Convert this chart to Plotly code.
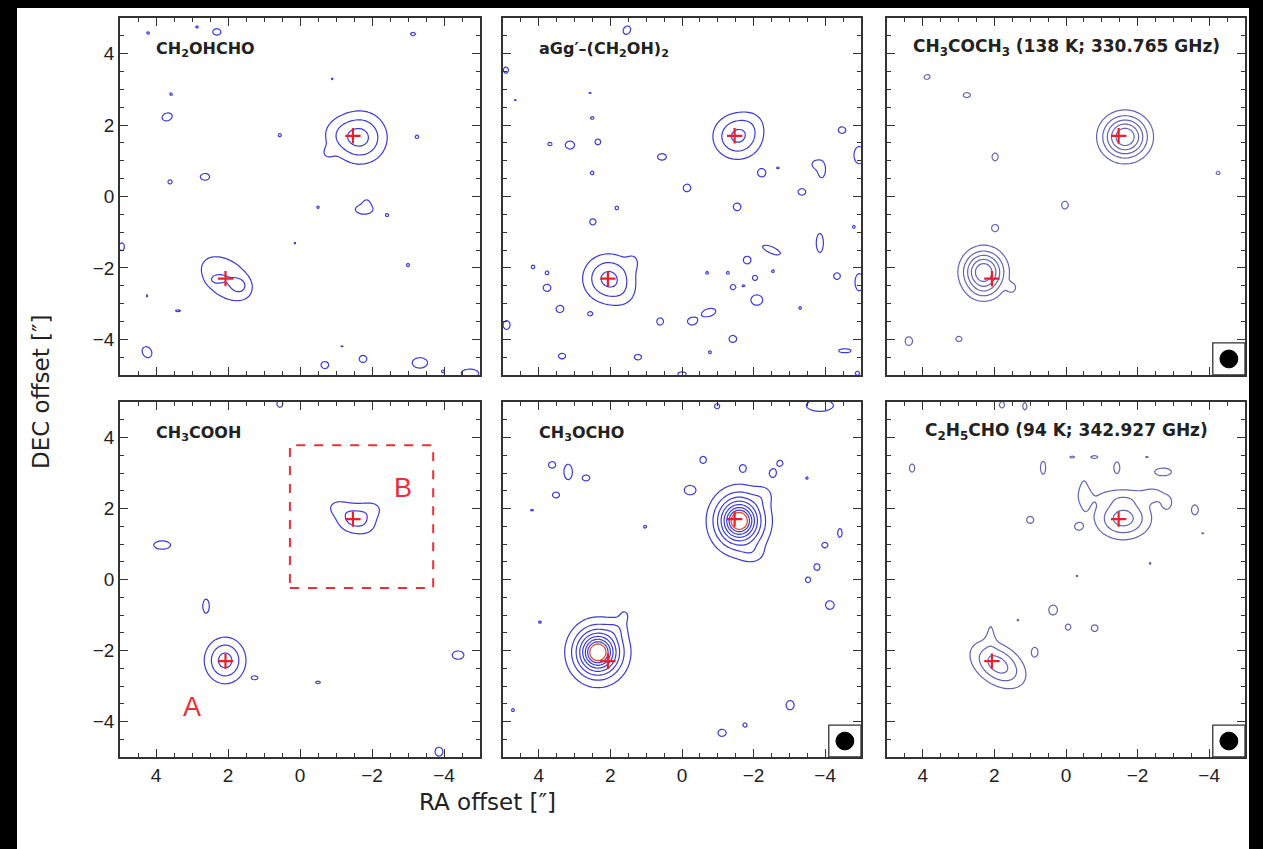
import numpy as np
import plotly.graph_objects as go

# ---------------- data ----------------
W, H = 1263, 849
titles = ["CH<sub>2</sub>OHCHO", "aGg′–(CH<sub>2</sub>OH)<sub>2</sub>",
          "CH<sub>3</sub>COCH<sub>3</sub> (138 K; 330.765 GHz)",
          "CH<sub>3</sub>COOH", "CH<sub>3</sub>OCHO",
          "C<sub>2</sub>H<sub>5</sub>CHO (94 K; 342.927 GHz)"]
tick_vals = [4, 2, 0, -2, -4]
src_A = (2.07, -2.3)
src_B = (-1.47, 1.7)

# emission components per panel: (x, y, amplitude, sigma_u, sigma_v, angle_deg)
comp_p1 = [(-1.68, 1.65, 3.3, 0.48, 0.48, 0), (-1.0, 1.75, 0.8, 0.35, 0.35, 0), (-0.75, 1.2, 0.7, 0.15, 0.15, 0),
           (2.05, -2.3, 2.0, 0.66, 0.42, 37), (1.67, -2.5, 1.0, 0.15, 0.15, 0), (2.35, -2.33, 0.8, 0.12, 0.08, 0),
           (2.31, 4.61, 1.4, 0.14, 0.11, 0), (4.22, 4.58, 1.08, 0.1, 0.1, 0), (2.86, 4.75, 1.08, 0.1, 0.1, 0),
           (3.69, 2.23, 1.5, 0.16, 0.12, -20), (3.58, 2.87, 1.08, 0.1, 0.1, 0), (3.61, 0.41, 1.2, 0.1, 0.1, 0),
           (2.64, 0.55, 1.45, 0.15, 0.11, 0), (0.56, 1.72, 1.12, 0.1, 0.1, 0), (-3.25, 1.67, 1.12, 0.1, 0.1, 0),
           (-0.89, 3.29, 1.05, 0.1, 0.1, 0), (-3.14, 4.55, 1.2, 0.12, 0.08, 0), (-1.78, -0.36, 1.6, 0.25, 0.14, 0),
           (-1.85, -0.18, 1.1, 0.08, 0.1, 0), (-0.5, -0.3, 1.08, 0.1, 0.1, 0), (-2.42, -0.52, 1.08, 0.1, 0.1, 0),
           (0.14, -1.31, 1.05, 0.1, 0.1, 0), (-3.0, -1.92, 1.12, 0.1, 0.1, 0), (4.95, -1.41, 1.3, 0.1, 0.15, 0),
           (4.25, -2.78, 1.05, 0.1, 0.1, 0), (3.39, -3.2, 1.12, 0.15, 0.07, 0), (4.25, -4.36, 1.5, 0.14, 0.18, -30),
           (-0.69, -4.72, 1.4, 0.13, 0.12, 0), (-1.75, -4.55, 1.4, 0.13, 0.12, 0), (-1.17, -4.19, 1.05, 0.1, 0.1, 0),
           (-3.33, -4.66, 1.6, 0.22, 0.15, 0), (-4.72, -4.95, 1.6, 0.25, 0.12, 0), (-3.97, -4.9, 1.08, 0.1, 0.1, 0)]
comp_p2 = [(-1.55, 1.68, 3.2, 0.45, 0.42, 0), (-2.0, 2.1, 0.5, 0.3, 0.3, 0),
           (2.05, -2.3, 3.3, 0.47, 0.45, 0), (1.35, -1.8, 0.7, 0.15, 0.2, 0), (1.6, -2.8, 0.5, 0.3, 0.3, 0),
           (1.54, 4.66, 1.4, 0.12, 0.15, 30), (4.92, 3.54, 1.3, 0.1, 0.12, 0), (4.66, 2.7, 1.05, 0.1, 0.1, 0),
           (2.57, 2.9, 1.05, 0.1, 0.1, 0), (2.51, 2.2, 1.15, 0.1, 0.08, 0), (3.69, 1.47, 1.2, 0.1, 0.08, 0),
           (3.13, 1.44, 1.45, 0.15, 0.13, 0), (2.35, 1.53, 1.3, 0.11, 0.11, 0), (2.51, 0.66, 1.15, 0.1, 0.1, 0),
           (0.56, 1.11, 1.4, 0.15, 0.11, 0), (-0.14, 0.24, 1.4, 0.13, 0.13, 0), (-1.54, -0.29, 1.4, 0.13, 0.13, 0),
           (1.82, -0.32, 1.15, 0.1, 0.1, 0), (2.49, -0.71, 1.3, 0.12, 0.12, 0), (-2.23, 0.66, 1.4, 0.13, 0.13, 0),
           (-2.68, 0.8, 1.05, 0.1, 0.1, 0), (-3.35, 0.13, 1.4, 0.13, 0.11, 0), (-3.9, 0.75, 1.5, 0.12, 0.25, 0),
           (-3.72, 0.9, 1.3, 0.1, 0.1, 0), (-4.47, 1.86, 1.4, 0.13, 0.11, 0), (-4.95, 1.16, 1.6, 0.15, 0.25, 0),
           (-4.8, -0.85, 1.1, 0.1, 0.1, 0), (-3.85, -1.3, 1.5, 0.11, 0.3, 0), (-2.5, -1.5, 1.5, 0.3, 0.1, 24),
           (-1.82, -1.78, 1.4, 0.13, 0.13, 0), (-1.28, -2.14, 1.1, 0.1, 0.1, 0), (-0.7, -2.14, 1.1, 0.1, 0.1, 0),
           (-2.04, -2.28, 1.3, 0.1, 0.1, 0), (-1.42, -2.54, 1.3, 0.1, 0.1, 0), (-1.72, -2.5, 1.05, 0.1, 0.1, 0),
           (-2.09, -2.9, 1.6, 0.17, 0.15, 0), (-2.54, -2.09, 1.1, 0.1, 0.1, 0), (-3.3, -3.12, 1.1, 0.1, 0.1, 0),
           (-4.33, -2.23, 1.35, 0.12, 0.12, 0), (-4.95, -2.4, 1.6, 0.12, 0.25, 0), (-0.75, -3.25, 1.5, 0.22, 0.12, -15),
           (-0.28, -3.5, 1.4, 0.15, 0.12, 0), (0.61, -3.5, 1.35, 0.12, 0.13, 0), (-1.42, -3.99, 1.4, 0.13, 0.12, 0),
           (-0.78, -4.36, 1.1, 0.1, 0.1, 0), (-4.55, -4.32, 1.4, 0.22, 0.07, 0), (1.23, -4.5, 1.35, 0.13, 0.1, 0),
           (3.35, -4.47, 1.35, 0.13, 0.1, 0), (2.57, -3.29, 1.1, 0.1, 0.08, 0), (3.41, -3.15, 1.4, 0.13, 0.12, 0),
           (3.77, -2.56, 1.4, 0.13, 0.12, 0), (4.16, -1.97, 1.15, 0.1, 0.1, 0), (3.77, -2.14, 1.15, 0.1, 0.1, 0),
           (4.9, -3.6, 1.4, 0.12, 0.15, 0), (0.0, -4.97, 1.2, 0.2, 0.1, 0), (-4.9, -4.95, 1.2, 0.1, 0.1, 0)]
comp_p3 = [(-1.65, 1.67, 6.0, 0.42, 0.4, 0), (2.3, -2.12, 6.0, 0.38, 0.4, 0), (2.3, -2.7, 0.5, 0.3, 0.2, 0),
           (3.88, 3.35, 1.3, 0.12, 0.09, -20), (2.77, 2.84, 1.35, 0.13, 0.09, 0), (1.98, 1.11, 1.35, 0.11, 0.14, 0),
           (0.03, -0.24, 1.35, 0.12, 0.14, 0), (-4.25, 0.66, 1.2, 0.1, 0.08, 0), (1.98, -0.88, 1.35, 0.12, 0.12, 0),
           (1.51, -2.56, 1.3, 0.1, 0.11, 0), (4.39, -4.05, 1.45, 0.12, 0.14, 0), (2.99, -3.99, 1.3, 0.12, 0.1, 0)]
comp_p4 = [(-1.5, 1.72, 2.3, 0.35, 0.3, 0), (-1.0, 2.05, 0.9, 0.25, 0.2, 0), (-2.05, 2.0, 0.9, 0.25, 0.2, 0),
           (-1.9, 1.5, 0.6, 0.25, 0.25, 0), (2.08, -2.28, 3.4, 0.37, 0.42, 0),
           (3.83, 0.97, 1.5, 0.26, 0.13, 0), (2.61, -0.75, 1.5, 0.1, 0.22, 0), (1.25, -2.77, 1.2, 0.11, 0.07, 0),
           (-0.5, -2.9, 1.2, 0.11, 0.07, 0), (-4.39, -2.13, 1.5, 0.18, 0.13, 0), (-3.86, -4.85, 1.5, 0.12, 0.14, 0),
           (0.56, 4.95, 1.4, 0.1, 0.12, 0)]
comp_p5 = [(-1.6, 1.65, 5.4, 0.5, 0.56, 0), (-1.6, 1.65, 3.2, 0.3, 0.32, 0), (-1.6, 1.65, 2.2, 0.15, 0.15, 0),
           (-2.3, 2.4, 0.8, 0.2, 0.2, 0), (-2.0, 0.7, 0.8, 0.25, 0.2, 0),
           (2.35, -2.05, 5.4, 0.5, 0.54, 0), (2.35, -2.05, 3.2, 0.3, 0.31, 0), (2.35, -2.05, 2.2, 0.15, 0.15, 0),
           (1.6, -1.0, 0.9, 0.12, 0.15, 0), (1.8, -1.35, 0.8, 0.2, 0.2, 0),
           (3.63, 3.23, 1.4, 0.12, 0.11, 0), (3.18, 3.03, 1.5, 0.13, 0.24, 0), (2.68, 2.86, 1.4, 0.13, 0.1, 0),
           (3.52, 2.38, 1.4, 0.12, 0.1, 0), (4.19, 1.96, 1.1, 0.1, 0.07, 0), (1.03, 1.49, 1.1, 0.1, 0.1, 0),
           (-0.22, 2.52, 1.5, 0.17, 0.14, 0), (-0.59, 3.37, 1.4, 0.11, 0.12, 0), (-1.7, 3.14, 1.35, 0.1, 0.11, 0),
           (-2.54, 3.0, 1.4, 0.11, 0.13, 0), (-2.74, 3.28, 1.35, 0.1, 0.1, 0), (-3.49, 2.86, 1.08, 0.1, 0.1, 0),
           (-4.41, 1.31, 1.35, 0.08, 0.16, 0), (-3.99, 0.97, 1.35, 0.11, 0.1, 0), (-3.77, 0.35, 1.35, 0.11, 0.12, 0),
           (-3.52, -0.01, 1.3, 0.1, 0.11, 0), (-4.13, -0.72, 1.45, 0.14, 0.14, 0), (-3.02, -3.54, 1.45, 0.13, 0.15, 0),
           (-1.76, -4.1, 1.2, 0.1, 0.1, 0), (-1.12, -4.32, 1.4, 0.14, 0.12, 0), (-3.85, 4.9, 1.8, 0.35, 0.15, 0),
           (-0.98, 4.88, 1.3, 0.1, 0.1, 0), (4.72, -3.68, 1.1, 0.1, 0.1, 0), (3.97, -1.2, 1.08, 0.1, 0.1, 0)]
comp_p6 = [(-1.6, 1.72, 3.5, 0.5, 0.38, 0), (-0.5, 2.45, 1.2, 0.15, 0.5, 0), (-1.6, 2.35, 1.0, 0.8, 0.18, 0),
           (-2.45, 2.4, 1.1, 0.2, 0.13, 0), (1.9, -2.4, 3.5, 0.55, 0.35, 35), (2.1, -1.4, 0.9, 0.12, 0.35, 0),
           (0.64, 3.15, 1.3, 0.1, 0.25, 0), (-0.17, 3.45, 1.15, 0.12, 0.06, 0), (-0.8, 3.45, 1.2, 0.15, 0.07, 0),
           (-1.42, 3.15, 1.4, 0.1, 0.2, 0), (-2.26, 3.45, 1.1, 0.1, 0.05, 0), (-2.71, 3.03, 1.5, 0.26, 0.12, 0),
           (-2.82, 2.15, 1.45, 0.12, 0.16, 0), (-3.6, 1.96, 1.45, 0.11, 0.16, 0), (-3.82, 1.31, 1.05, 0.1, 0.1, 0),
           (1.0, 1.68, 1.4, 0.12, 0.12, 0), (-0.34, 1.49, 1.35, 0.11, 0.1, 0), (4.3, 3.14, 1.4, 0.09, 0.14, 0),
           (1.79, 4.92, 1.3, 0.1, 0.12, 0), (1.15, 4.88, 1.3, 0.08, 0.14, 0), (-2.35, 0.46, 1.05, 0.1, 0.1, 0),
           (-0.31, 0.1, 1.05, 0.1, 0.1, 0), (0.36, -0.86, 1.45, 0.14, 0.16, 0), (-0.06, -1.34, 1.35, 0.1, 0.11, 0),
           (-0.8, -1.37, 1.35, 0.12, 0.12, 0), (0.87, -2.04, 1.4, 0.1, 0.15, 0), (1.34, -1.14, 1.05, 0.1, 0.1, 0)]
panel_comps = [comp_p1, comp_p2, comp_p3, comp_p4, comp_p5, comp_p6]
panel_nlev = [3, 3, 5, 3, 7, 3]          # number of blue contour levels
panel_red_level = [None, None, None, None, 8, None]
panel_color = ["#3b3bd6", "#3b3bd6", "#6464b4", "#3b3bd6", "#3b3bd6", "#6464b4"]
panel_beam = [False, False, True, False, True, True]

# ---------------- layout geometry (pixels) ----------------
col_px = [(120, 480), (503, 861), (887, 1245)]
row_px = [(18, 375), (402, 757)]

xs = np.linspace(-5, 5, 201)
ys = np.linspace(-5, 5, 201)
XX, YY = np.meshgrid(xs, ys)


def field(comps):
    Z = np.zeros_like(XX)
    for (x0, y0, a, su, sv, ang) in comps:
        t = np.radians(ang)
        dx, dy = XX - x0, YY - y0
        u = dx * np.cos(t) + dy * np.sin(t)
        v = -dx * np.sin(t) + dy * np.cos(t)
        Z += a * np.exp(-0.5 * (u ** 2 / su ** 2 + v ** 2 / sv ** 2))
    return np.round(Z, 3)


fig = go.Figure()
layout = dict(width=W, height=H, margin=dict(l=0, r=0, t=0, b=0),
              paper_bgcolor="black", plot_bgcolor="white", showlegend=False)
shapes = [dict(type="rect", xref="paper", yref="paper", x0=17 / W, x1=1249 / W, y0=0, y1=1 - 8 / H,
               fillcolor="white", line=dict(width=0), layer="below")]
annotations = []
axcol = "#333333"
tickfont = dict(family="Liberation Sans, Arial, sans-serif", size=19, color="#222222")
title_font = dict(family="DejaVu Sans, sans-serif", size=16, color="#222222", weight="bold")

for i in range(6):
    r, c = divmod(i, 3)
    n = "" if i == 0 else str(i + 1)
    xa, ya = "x" + n, "y" + n
    px0, px1 = col_px[c]
    py0, py1 = row_px[r]
    common = dict(showgrid=False, zeroline=False, showline=True, linecolor=axcol, linewidth=1.5,
                  mirror="ticks", ticks="inside", ticklen=8, tickwidth=1.3, tickcolor=axcol,
                  tickmode="array", tickvals=tick_vals,
                  minor=dict(ticks="inside", ticklen=4, dtick=0.5, tick0=0, tickcolor=axcol, tickwidth=1),
                  tickfont=tickfont, fixedrange=True)
    layout["xaxis" + n] = dict(common, domain=[px0 / W, px1 / W], range=[5, -5], anchor=ya,
                               showticklabels=(r == 1))
    layout["yaxis" + n] = dict(common, domain=[1 - py1 / H, 1 - py0 / H], range=[-5, 5], anchor=xa,
                               showticklabels=(c == 0))

    Z = field(panel_comps[i])
    col = panel_color[i]
    fig.add_trace(go.Contour(x=xs, y=ys, z=Z, xaxis=xa, yaxis=ya, showscale=False,
                             contours=dict(start=1, end=panel_nlev[i], size=1, coloring="lines"),
                             colorscale=[[0, col], [1, col]], line=dict(width=1.2, smoothing=1.0),
                             hoverinfo="skip"))
    if panel_red_level[i] is not None:
        lv = panel_red_level[i]
        fig.add_trace(go.Contour(x=xs, y=ys, z=Z, xaxis=xa, yaxis=ya, showscale=False,
                                 contours=dict(start=lv, end=lv, size=1, coloring="lines"),
                                 colorscale=[[0, "#e0502a"], [1, "#e0502a"]], line=dict(width=1.3),
                                 hoverinfo="skip"))
    # source positions
    fig.add_trace(go.Scatter(x=[src_A[0], src_B[0]], y=[src_A[1], src_B[1]], xaxis=xa, yaxis=ya,
                             mode="markers", hoverinfo="skip",
                             marker=dict(symbol="cross-thin", size=11, line=dict(color="#e8202a", width=2.2))))
    # title
    if c < 2:
        annotations.append(dict(x=4.05, y=4.12, xref=xa, yref=ya, text=titles[i],
                                showarrow=False, xanchor="left", yanchor="middle", font=title_font))
    else:
        annotations.append(dict(x=0.0, y=4.18, xref=xa, yref=ya, text=titles[i],
                                showarrow=False, xanchor="center", yanchor="middle",
                                font=dict(title_font, size=17)))
    if panel_beam[i]:
        shapes.append(dict(type="rect", xref=xa, yref=ya, x0=-4.1, x1=-5, y0=-5, y1=-4.1,
                           line=dict(color=axcol, width=1.3), fillcolor="white"))
        shapes.append(dict(type="circle", xref=xa, yref=ya, x0=-4.3, x1=-4.8, y0=-4.3, y1=-4.8,
                           line=dict(color="black", width=1), fillcolor="black"))

# dashed box and labels in CH3COOH panel
shapes.append(dict(type="rect", xref="x4", yref="y4", x0=0.28, x1=-3.7, y0=-0.24, y1=3.78,
                   line=dict(color="#e8303a", width=2, dash="dash")))
annotations.append(dict(x=3.0, y=-3.6, xref="x4", yref="y4", text="A", showarrow=False,
                        font=dict(family="Liberation Sans, Arial, sans-serif", size=27, color="#e8303a")))
annotations.append(dict(x=-2.86, y=2.58, xref="x4", yref="y4", text="B", showarrow=False,
                        font=dict(family="Liberation Sans, Arial, sans-serif", size=27, color="#e8303a")))

# axis titles
axis_title_font = dict(family="DejaVu Sans, sans-serif", size=23, color="#222")
annotations.append(dict(x=41 / W, y=1 - 392 / H, xref="paper", yref="paper", text="DEC offset [″]",
                        textangle=-90, showarrow=False, xanchor="center", yanchor="middle",
                        font=axis_title_font))
annotations.append(dict(x=488 / W, y=1 - 802 / H, xref="paper", yref="paper", text="RA offset [″]",
                        showarrow=False, xanchor="center", yanchor="middle", font=axis_title_font))

layout["shapes"] = shapes
layout["annotations"] = annotations
fig.update_layout(**layout)

fig.write_html("out.html", config={"displayModeBar": False},
               post_script="document.body.style.margin='0';document.body.style.overflow='hidden';")
